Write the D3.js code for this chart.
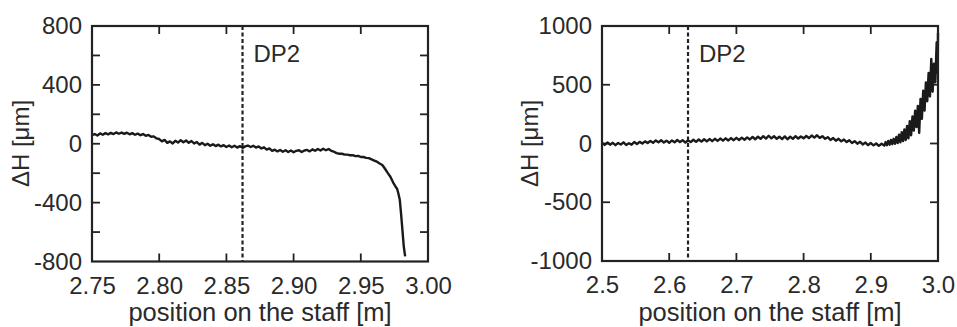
<!DOCTYPE html>
<html><head><meta charset="utf-8">
<script src="https://cdn.jsdelivr.net/npm/d3@7"></script>
<style>
body{margin:0;background:#fff;}
svg{display:block;}
text{font-family:"Liberation Sans",Arial,Helvetica,sans-serif;fill:#2a2a2a;}
</style></head>
<body><svg id="c" width="957" height="327"></svg>
<script>
// ---- Left panel data ----
const leftX = [2.750,2.752,2.754,2.756,2.758,2.760,2.762,2.764,2.766,2.768,2.770,2.772,2.774,2.776,2.778,2.780,2.782,2.784,2.786,2.788,2.790,2.792,2.794,2.796,2.798,2.800,2.802,2.804,2.806,2.808,2.810,2.812,2.814,2.816,2.818,2.820,2.822,2.824,2.826,2.828,2.830,2.832,2.834,2.836,2.838,2.840,2.842,2.844,2.846,2.848,2.850,2.852,2.854,2.856,2.858,2.860,2.862,2.864,2.866,2.868,2.870,2.872,2.874,2.876,2.878,2.880,2.882,2.884,2.886,2.888,2.890,2.892,2.894,2.896,2.898,2.900,2.902,2.904,2.906,2.908,2.910,2.912,2.914,2.916,2.918,2.920,2.922,2.924,2.926,2.928,2.930,2.932,2.934,2.936,2.938,2.940,2.942,2.944,2.946,2.948,2.950,2.952,2.954,2.956,2.958,2.960,2.962,2.964,2.966,2.968,2.970,2.972,2.974,2.976,2.977,2.978,2.979,2.980,2.981,2.982,2.983];
const leftY = [58,66,56,70,61,72,64,74,66,77,68,76,67,75,64,72,61,69,58,66,54,60,48,50,36,32,16,26,6,16,2,20,8,24,10,22,6,18,2,12,-6,6,-10,0,-14,-4,-16,-6,-18,-10,-22,-12,-24,-14,-26,-16,-28,-18,-12,-22,-14,-26,-18,-32,-24,-40,-32,-48,-40,-52,-42,-54,-44,-56,-46,-58,-48,-44,-56,-46,-42,-52,-38,-48,-36,-46,-34,-44,-36,-48,-54,-64,-68,-68,-74,-74,-78,-78,-84,-82,-90,-90,-96,-98,-106,-114,-122,-134,-144,-170,-198,-224,-262,-294,-306,-340,-380,-480,-590,-700,-765];
const leftXTicks = [2.75,2.80,2.85,2.90,2.95,3.00];
const leftYTicks = [-800,-400,0,400,800];
const leftYMinor = [-800,-600,-400,-200,0,200,400,600,800];
const leftDP2 = 2.862;

// ---- Right panel data ----
const rightX = [2.500,2.504,2.508,2.512,2.516,2.520,2.524,2.528,2.532,2.536,2.540,2.544,2.548,2.552,2.556,2.560,2.564,2.568,2.572,2.576,2.580,2.584,2.588,2.592,2.596,2.600,2.604,2.608,2.612,2.616,2.620,2.624,2.628,2.632,2.636,2.640,2.644,2.648,2.652,2.656,2.660,2.664,2.668,2.672,2.676,2.680,2.684,2.688,2.692,2.696,2.700,2.704,2.708,2.712,2.716,2.720,2.724,2.728,2.732,2.736,2.740,2.744,2.748,2.752,2.756,2.760,2.764,2.768,2.772,2.776,2.780,2.784,2.788,2.792,2.796,2.800,2.804,2.808,2.812,2.816,2.820,2.824,2.828,2.832,2.836,2.840,2.844,2.848,2.852,2.856,2.860,2.864,2.868,2.872,2.876,2.880,2.884,2.888,2.892,2.896,2.900,2.904,2.908,2.912,2.916,2.920,2.922,2.924,2.926,2.928,2.930,2.932,2.934,2.936,2.938,2.940,2.942,2.944,2.946,2.948,2.950,2.952,2.954,2.956,2.958,2.960,2.962,2.964,2.966,2.968,2.970,2.972,2.974,2.976,2.978,2.980,2.982,2.984,2.986,2.988,2.990,2.992,2.994,2.996,2.998,2.9995,3.000];
const rightY = [5,-12,8,-10,6,-14,4,-8,10,-12,2,-10,12,-4,14,0,18,4,22,6,26,10,28,8,24,6,26,10,30,12,28,8,26,12,32,14,34,16,36,18,38,20,40,22,42,24,44,26,46,28,48,30,50,32,52,34,56,36,58,40,62,42,66,44,62,40,58,38,60,36,58,40,62,42,60,44,64,46,68,50,70,48,62,40,54,30,46,24,40,18,34,12,28,4,20,-2,14,-8,8,-14,4,-16,0,-20,-2,-18,12,-14,22,-10,30,-6,40,-2,56,4,74,10,96,20,120,30,150,44,190,70,230,110,280,140,320,90,380,210,450,280,520,360,600,400,720,440,680,520,860,600,940];
const rightXTicks = [2.5,2.6,2.7,2.8,2.9,3.0];
const rightYTicks = [-1000,-500,0,500,1000];
const rightDP2 = 2.628;

const svg = d3.select("#c");
const FS = 24;

function panel(o){
  const g = svg.append("g");
  const x = d3.scaleLinear().domain(o.xDomain).range([o.left,o.right]);
  const y = d3.scaleLinear().domain(o.yDomain).range([o.bottom,o.top]);
  const inner = o.xTicks.slice(1,-1);
  const innerY = o.yMinor.slice(1,-1);
  const TL = 8;
  const gb = g.append("g").attr("transform",`translate(0,${o.bottom})`)
    .call(d3.axisBottom(x).tickValues(o.xTicks).tickFormat(d3.format(o.xFmt)).tickSize(0).tickPadding(15));
  gb.select(".domain").remove();
  gb.selectAll("text").style("font-size",FS+"px").attr("fill","#2a2a2a");
  const gl = g.append("g").attr("transform",`translate(${o.left},0)`)
    .call(d3.axisLeft(y).tickValues(o.yTicks).tickFormat(d=>String(d)).tickSize(0).tickPadding(10));
  gl.select(".domain").remove();
  gl.selectAll("text").style("font-size",FS+"px").attr("fill","#2a2a2a");
  const tg = g.append("g").attr("stroke","#222").attr("stroke-width",1.8);
  tg.selectAll(".xb").data(inner).join("line").attr("x1",d=>x(d)).attr("x2",d=>x(d)).attr("y1",o.bottom).attr("y2",o.bottom-TL);
  tg.selectAll(".xt").data(inner).join("line").attr("x1",d=>x(d)).attr("x2",d=>x(d)).attr("y1",o.top).attr("y2",o.top+TL);
  tg.selectAll(".yl").data(innerY).join("line").attr("y1",d=>y(d)).attr("y2",d=>y(d)).attr("x1",o.left).attr("x2",o.left+TL);
  tg.selectAll(".yr").data(innerY).join("line").attr("y1",d=>y(d)).attr("y2",d=>y(d)).attr("x1",o.right).attr("x2",o.right-TL);
  g.append("line").attr("x1",x(o.dp2)).attr("x2",x(o.dp2)).attr("y1",o.top).attr("y2",o.bottom)
    .attr("stroke","#222").attr("stroke-width",2.2).attr("stroke-dasharray","4,2.5");
  g.append("text").attr("x",x(o.dp2)+11).attr("y",62).style("font-size",FS+"px").text("DP2");
  const pts = o.xs.map((v,i)=>[v,o.ys[i]]);
  g.append("path").datum(pts).attr("fill","none").attr("stroke","#1a1a1a").attr("stroke-width",2.4)
    .attr("stroke-linejoin","round").attr("d",d3.line().x(d=>x(d[0])).y(d=>y(d[1])));
  g.append("rect").attr("x",o.left).attr("y",o.top).attr("width",o.right-o.left).attr("height",o.bottom-o.top)
    .attr("fill","none").attr("stroke","#222").attr("stroke-width",2.2);
  g.append("text").attr("x",(o.left+o.right)/2).attr("y",321).attr("text-anchor","middle")
    .style("font-size","25.5px").text("position on the staff [m]");
  g.append("text").attr("transform",`translate(${o.ylx},143.5) rotate(-90)`).attr("text-anchor","middle")
    .style("font-size",FS+"px").text("ΔH [μm]");
}

panel({left:92,right:428,top:26,bottom:261.5,xDomain:[2.75,3.0],yDomain:[-800,800],
  xTicks:leftXTicks,yTicks:leftYTicks,yMinor:leftYMinor,xFmt:".2f",dp2:leftDP2,xs:leftX,ys:leftY,ylx:29});
panel({left:602,right:938,top:26,bottom:261,xDomain:[2.5,3.0],yDomain:[-1000,1000],
  xTicks:rightXTicks,yTicks:rightYTicks,yMinor:rightYTicks,xFmt:".1f",dp2:rightDP2,xs:rightX,ys:rightY,ylx:538});
</script></body></html>
